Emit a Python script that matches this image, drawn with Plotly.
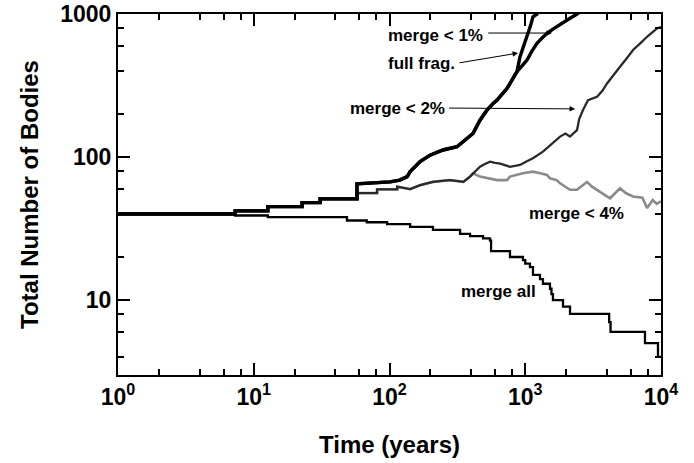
import numpy as np
import plotly.graph_objects as go

# ---------------- data ----------------
# step points appear as pairs (same time, value before / after)
full_frag_t = [1, 7.3, 7.3, 12.7, 12.7, 22.7, 22.7, 30.8, 30.8, 57.6, 57.6, 101, 119, 135, 142, 162, 168,
               199, 248, 314, 372, 412, 464, 523, 580, 620, 735, 869, 915, 970, 1030, 1090, 1140, 1220, 1300]
full_frag_n = [40, 40, 42, 42, 45, 45, 48, 48, 51, 51, 65, 67, 69, 73, 79, 90, 93,
               103, 112, 118, 135, 146, 181, 213, 237, 250, 302, 395, 503, 590, 693, 820, 957, 1000, 1150]

merge1_t = [1, 7.3, 7.3, 12.7, 12.7, 22.7, 22.7, 30.8, 30.8, 57.6, 57.6, 101, 119, 135, 142, 162, 168,
            199, 248, 314, 372, 412, 464, 523, 580, 620, 735, 869, 950, 1030, 1120, 1220, 1330, 1445, 1620,
            1805, 1960, 2137, 2405, 2663]
merge1_n = [40, 40, 42, 42, 45, 45, 48, 48, 51, 51, 65, 67, 69, 73, 79, 90, 93,
            103, 112, 118, 135, 146, 181, 213, 237, 250, 302, 395, 435, 477, 550, 624, 680, 733, 790,
            838, 885, 933, 1000, 1080]

merge2_t = [1, 7.3, 7.3, 12.7, 12.7, 22.7, 22.7, 30.8, 30.8, 57.6, 57.6, 81, 81, 114, 114, 135, 142, 168,
            209, 278, 350, 392, 430, 464, 500, 550, 600, 654, 772, 915, 1020, 1140, 1350, 1600, 1805, 1975,
            2137, 2405, 2500, 2663, 2900, 3378, 3700, 4003, 4500, 4990, 5600, 6222, 7000, 7890, 9350, 10000]
merge2_n = [40, 40, 42, 42, 45, 45, 48, 48, 51, 51, 56, 56, 59.5, 59.5, 62, 59.6, 59.6, 63.6,
            67, 69, 67, 73, 80, 85.5, 89, 92.8, 91, 90, 85.5, 88, 93, 98, 109, 125, 139, 146,
            139, 154, 185, 213, 250, 264, 290, 327, 380, 428, 490, 560, 620, 693, 794, 810]

merge4_t = [1, 7.3, 7.3, 12.7, 12.7, 22.7, 22.7, 30.8, 30.8, 57.6, 57.6, 81, 81, 114, 114, 135, 142, 168,
            209, 278, 350, 392, 412, 464, 540, 620, 735, 772, 960, 1140, 1290, 1445, 1520, 1700, 1805,
            2137, 2405, 2600, 2850, 3100, 3378, 3800, 4210, 4990, 5500, 6222, 7300, 7890, 8700, 9300, 10000]
merge4_n = [40, 40, 42, 42, 45, 45, 48, 48, 51, 51, 56, 56, 59.5, 59.5, 62, 59.6, 59.6, 63.6,
            67, 69, 67, 73, 77, 73, 71, 69, 69, 73, 77, 79, 77, 75, 71, 69, 65.5,
            59, 59, 63, 67, 62, 59, 55, 51.5, 60.5, 56, 53, 52, 44, 50, 47, 49]

mergeall_t = [1, 7.3, 12.7, 48.6, 68, 96, 142, 209, 331, 392, 489, 550, 560, 772, 962, 1000, 1083,
              1140, 1284, 1350, 1521, 1560, 1600, 1897, 2137, 4150, 4250, 7620, 9500, 10000]
mergeall_n = [40, 39, 38, 36, 35, 34, 32.5, 31, 29, 28, 27, 26, 22, 20, 19, 18, 17,
              15, 14, 13, 12, 11, 10, 9, 8, 7, 6, 5, 4, 4]

x_tickvals = [1, 10, 100, 1000, 10000]
x_ticktext = ["10<sup>0</sup>", "10<sup>1</sup>", "10<sup>2</sup>", "10<sup>3</sup>", "10<sup>4</sup>"]
y_tickvals = [10, 100, 1000]
y_ticktext = ["10", "100", "1000"]
minor_x = [m * d for d in [1, 10, 100, 1000] for m in [2, 4, 6, 8]]
minor_y = [m * d for d in [1, 10, 100] for m in [2, 4, 6, 8] if 3 <= m * d < 1000]

# ---------------- figure ----------------
FONT = "Liberation Sans, Arial, Helvetica, sans-serif"
fig = go.Figure()

def add(t, n, color, width, shape):
    fig.add_trace(go.Scatter(x=t, y=n, mode="lines", line=dict(color=color, width=width, shape=shape),
                             showlegend=False, hoverinfo="skip"))

add(merge4_t, merge4_n, "#8a8a8a", 2.6, "linear")
add(merge2_t, merge2_n, "#2a2a2a", 2.3, "linear")
add(mergeall_t, mergeall_n, "#000000", 2.3, "hv")
add(merge1_t, merge1_n, "#000000", 3.4, "linear")
add(full_frag_t, full_frag_n, "#000000", 3.4, "linear")

# invisible trace so the mirrored (top/right) axes are drawn
fig.add_trace(go.Scatter(x=mergeall_t, y=mergeall_n, xaxis="x2", yaxis="y2", mode="lines",
                         line=dict(width=0), opacity=0, showlegend=False, hoverinfo="skip"))

L = np.log10
tf = dict(family=FONT, size=17, color="black", weight="bold")
annos = [
    dict(x=L(1574), y=L(736), ax=L(520), ay=L(736), text=""),
    dict(x=L(885), y=L(533), ax=L(320), ay=L(454), text=""),
    dict(x=L(2328), y=L(217), ax=L(268), ay=L(220), text=""),
]
for a in annos:
    fig.add_annotation(xref="x", yref="y", axref="x", ayref="y", showarrow=True,
                       arrowhead=2, arrowsize=1.1, arrowwidth=1, arrowcolor="black", **a)

texts = [
    ("merge < 1%", L(505), L(713), "right"),
    ("full frag.", L(314), L(454), "right"),
    ("merge < 2%", L(265), L(220), "right"),
    ("merge < 4%", L(2405), L(40.5), "center"),
    ("merge all", L(630), L(11.4), "center"),
]
for txt, x, y, xa in texts:
    fig.add_annotation(xref="x", yref="y", x=x, y=y, text=txt, showarrow=False,
                       xanchor=xa, yanchor="middle", font=tf)

tickfont = dict(family=FONT, size=23, color="black", weight="bold")
titlefont = dict(family=FONT, size=24, color="black", weight="bold")
axis_common = dict(
    type="log", showgrid=False, zeroline=False, showline=True, linecolor="black", linewidth=2,
    mirror=True, ticks="inside", ticklen=12, tickwidth=2, tickcolor="black", automargin=False,
    tickmode="array",
)
minor_common = dict(tickmode="array", ticks="inside", ticklen=6, tickwidth=1.5, tickcolor="black", showgrid=False)

fig.update_layout(
    xaxis=dict(**axis_common, range=[0, 4], tickvals=x_tickvals, ticktext=x_ticktext, tickfont=tickfont,
               minor=dict(**minor_common, tickvals=minor_x),
               title=dict(text="Time (years)", font=titlefont, standoff=28)),
    yaxis=dict(**axis_common, range=[0.476, 3], tickvals=y_tickvals, ticktext=y_ticktext, tickfont=tickfont,
               minor=dict(**minor_common, tickvals=minor_y),
               title=dict(text="Total Number of Bodies", font=titlefont, standoff=15)),
    xaxis2=dict(**axis_common, overlaying="x", side="top", range=[0, 4], tickvals=x_tickvals,
                showticklabels=False, minor=dict(**minor_common, tickvals=minor_x)),
    yaxis2=dict(**axis_common, overlaying="y", side="right", range=[0.476, 3], tickvals=y_tickvals,
                showticklabels=False, minor=dict(**minor_common, tickvals=minor_y)),
    width=694, height=463, margin=dict(l=118, r=33, t=14, b=88),
    plot_bgcolor="white", paper_bgcolor="white", showlegend=False,
)

fig.write_html("out.html", config={"displayModeBar": False},
               post_script="document.body.style.margin='0px';document.body.style.overflow='hidden';")
